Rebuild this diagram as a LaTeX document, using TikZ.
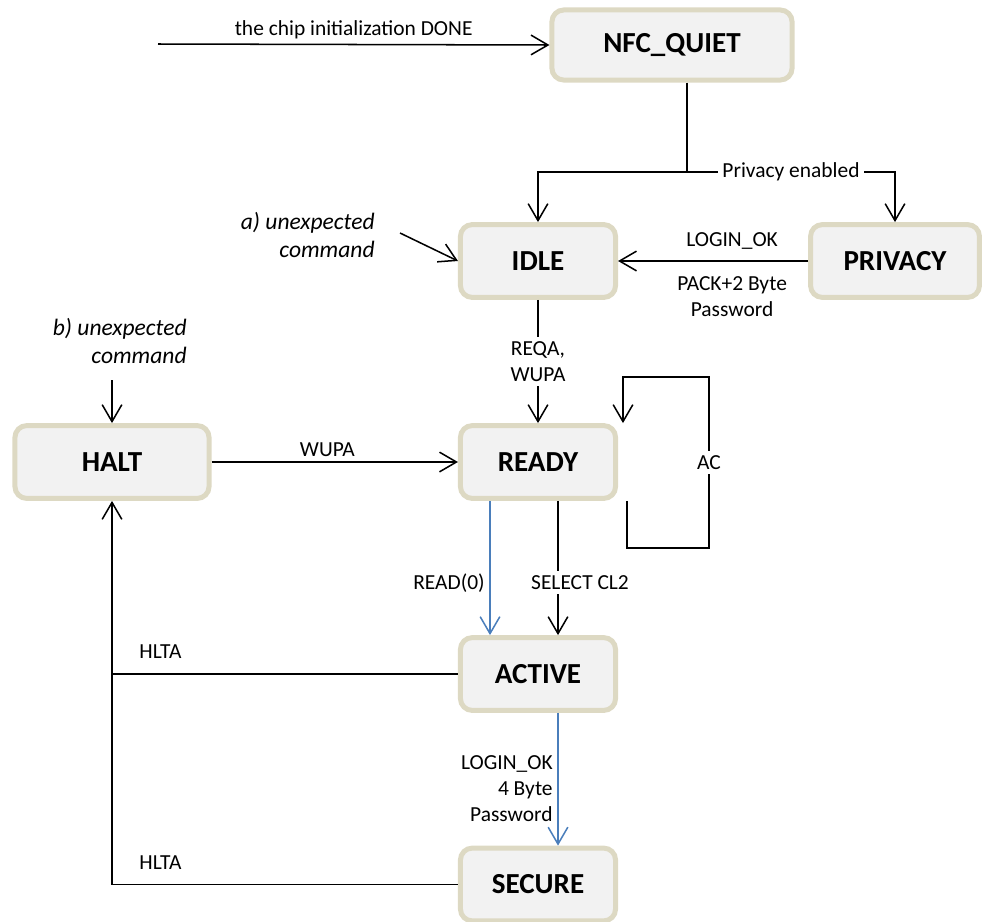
\documentclass[tikz,border=0pt]{standalone}
\usepackage{fontspec}
\setmainfont{Carlito}
\usetikzlibrary{arrows.meta}
\definecolor{borde}{RGB}{221,217,195}
\definecolor{relleno}{RGB}{242,242,242}
\definecolor{azul}{RGB}{74,126,187}

\begin{document}
\begin{tikzpicture}[x=2.54cm,y=-2.54cm,
    estado/.style={draw=borde, fill=relleno, line width=3.6pt, rounded corners=3mm,
      minimum height=1.85cm, font=\fontsize{21}{24}\selectfont\bfseries},
    etiq/.style={font=\fontsize{15.5}{19}\selectfont},
    nota/.style={font=\fontsize{17}{20.5}\selectfont\itshape, align=right, anchor=east},
    >={Straight Barb[length=4.3mm,width=5mm]}, line width=1.1pt]
            \useasboundingbox (0,0) rectangle (9.84,9.22);

            % Estados
            \node[estado, minimum width=6.1cm, minimum height=1.78cm] (nfc) at (6.72,0.45) {NFC\_QUIET};
            \node[estado, minimum width=3.94cm] (idle) at (5.38,2.61) {IDLE};
            \node[estado, minimum width=4.29cm] (privacy) at (8.95,2.61) {PRIVACY};
            \node[estado, minimum width=4.93cm] (halt) at (1.12,4.62) {HALT};
            \node[estado, minimum width=3.94cm] (ready) at (5.38,4.62) {READY};
            \node[estado, minimum width=3.94cm] (active) at (5.38,6.74) {ACTIVE};
            \node[estado, minimum width=3.94cm] (secure) at (5.38,8.845) {SECURE};

            % Notas
            \node[nota] (notaa) at (3.80,2.35) {a) unexpected\\command};
            \node[nota] (notab) at (1.92,3.41) {b) unexpected\\command};

            % Puntos auxiliares
            \coordinate (inicio) at (1.58,0.44);
            \coordinate (rama) at (6.87,1.72);
            \coordinate (a0) at (4.00,2.33);
            \coordinate (b0) at (1.12,3.80);
            \coordinate (cruce) at (halt.south |- active.west);

            % Transiciones
            \draw[->] (inicio) -- node[etiq, above] {the chip initialization DONE} (nfc.west);
            \draw (nfc.south -| rama) -- (rama);
            \draw[->] (rama) -| (idle.north);
            \draw[->] (rama) -| node[etiq, fill=white, pos=0.25] {Privacy enabled} (privacy.north);
            \draw[->] (a0) -- (idle.west);
            \draw[->] (privacy) -- node[etiq, above, pos=0.4, yshift=1.5mm] {LOGIN\_OK}
                node[etiq, below, pos=0.4, yshift=-2.5mm, align=center] {PACK+2 Byte\\Password} (idle);
            \draw[->] (idle) -- node[etiq, fill=white, align=center] {REQA,\\WUPA} (ready);
            \draw[->] (b0) -- (halt.north);
            \draw[->] (halt) -- node[etiq, above, pos=0.47] {WUPA} (ready);

            % Lazo AC
            \draw[->] (ready.south -| 6.27,0) |- (7.09,5.48)
                -- node[etiq, fill=white] {AC} (7.09,3.77) -| (ready.north -| 6.23,0);

            % READY -> ACTIVE
            \draw[->, azul] (ready.south -| 4.90,0) -- node[etiq, left, pos=0.61, black] {READ(0)} (active.north -| 4.90,0);
            \draw[->] (ready.south -| 5.58,0) -- node[etiq, fill=white, pos=0.61, xshift=5.6mm] {SELECT CL2} (active.north -| 5.58,0);

            % ACTIVE -> SECURE
            \draw[->, azul] (active.south -| 5.58,0) -- node[etiq, left, pos=0.57, align=right, black] {LOGIN\_OK\\4 Byte\\Password} (secure.north -| 5.58,0);

            % HLTA
            \draw[->] (active.west) -| node[etiq, above, pos=0.43, yshift=2.5mm] {HLTA} (halt.south);
            \draw (secure.west) -| node[etiq, above, pos=0.43, yshift=2.5mm] {HLTA} (cruce);
        \end{tikzpicture}
\end{document}
